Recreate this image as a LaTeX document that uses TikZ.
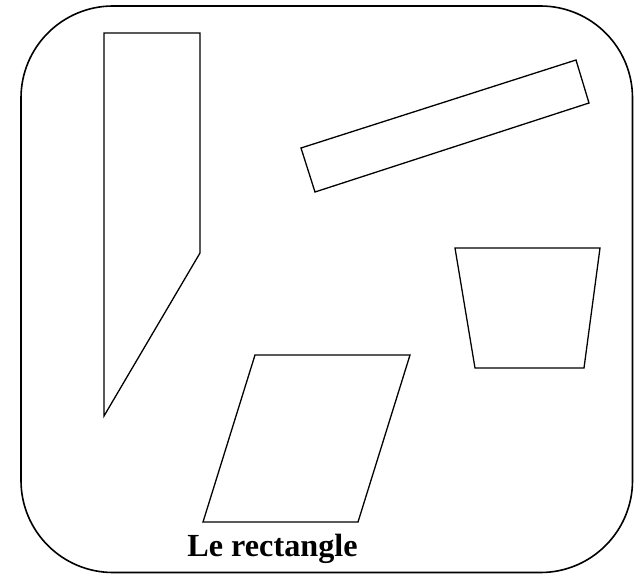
\documentclass[tikz,border=0pt]{standalone}
\usepackage{fontspec}
\setmainfont{Liberation Serif}
\begin{document}
\begin{tikzpicture}[x=1pt,y=-1pt,
  polyline/.style={draw=black,line width=1.3pt,line join=miter},
  frame/.style={draw=black,line width=1.6pt,rounded corners=92pt},
  lbl/.style={font=\bfseries\fontsize{32.2}{38}\selectfont,inner sep=0pt,anchor=base}]
\useasboundingbox (0,0) rectangle (634,577);
\draw[frame] (21,6) rectangle (632.5,572.5);
\draw[polyline] (104,33) -- (200,33) -- (200,253) -- (104,416) -- cycle;
\draw[polyline] (301,148) -- (576,60) -- (589,103) -- (315,192) -- cycle;
\draw[polyline] (455,248) -- (600,248) -- (584,368) -- (475,368) -- cycle;
\draw[polyline] (255,355) -- (410,355) -- (358,522) -- (203,522) -- cycle;
\node[lbl] (title) at (272.5,556) {Le rectangle};
\end{tikzpicture}
\end{document}
